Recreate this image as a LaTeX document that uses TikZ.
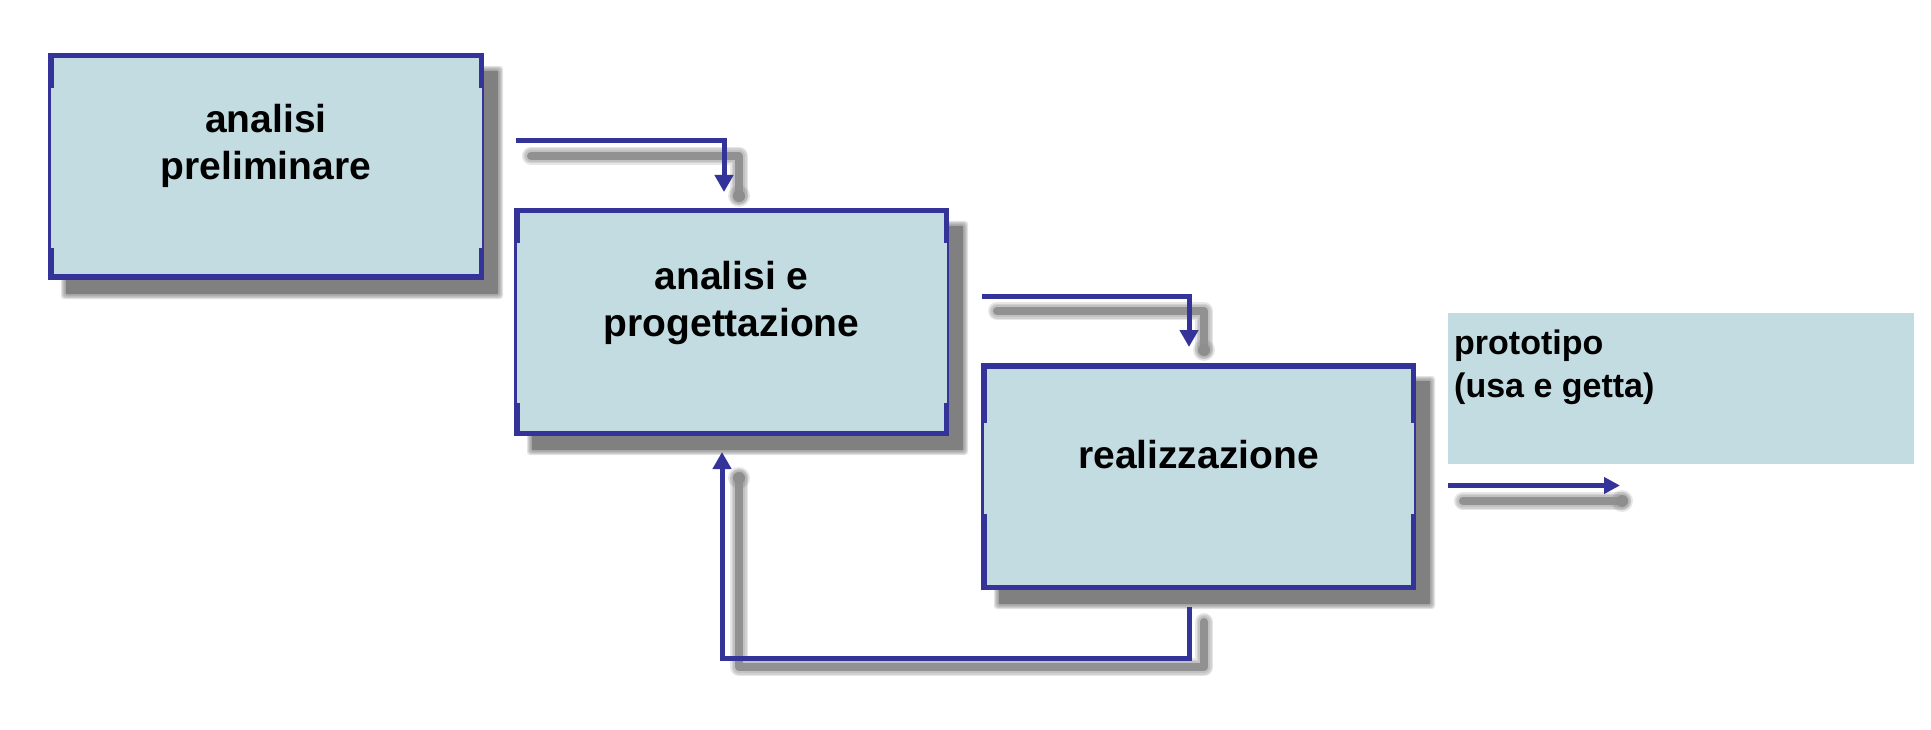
\documentclass[tikz,border=0pt]{standalone}
\usepackage{fontspec}
\setmainfont{Liberation Sans}
\usetikzlibrary{arrows.meta,fit}
\definecolor{boxfillc}{RGB}{194,220,225}
\definecolor{bordc}{RGB}{51,51,153}
\definecolor{shadowc}{RGB}{128,128,128}
\definecolor{lineshadowc}{RGB}{145,145,145}
\tikzset{
  flowarrow/.style={draw=bordc, line width=5pt, -{Triangle[width=18pt,length=17pt]}},
  boxlabel/.style={anchor=base, inner sep=0pt, font=\bfseries\fontsize{39}{47}\selectfont},
  protolabel/.style={anchor=base west, inner sep=0pt, font=\bfseries\fontsize{34}{43}\selectfont},
  shadecore/.style={fill=shadowc},
  shadelayer/.style={fill=shadowc, opacity=0.22, rounded corners=3pt},
  shadestroke/.style={draw=shadowc, opacity=0.2, line cap=round, line join=round},
  shadecorestroke/.style={draw=lineshadowc, line cap=round, line join=round},
  shadeblob/.style={fill=shadowc, opacity=0.2},
  shadecoreblob/.style={fill=lineshadowc!80!shadowc},
  borderpart/.style={fill=bordc},
  boxarea/.style={fill=boxfillc},
  boxframe/.style={inner sep=0pt},
}
\newcommand\softshadow[4]{%
  \foreach \k in {3,2,1,0,-1}{%
    \fill[shadelayer] (#1-\k,#2-\k) rectangle (#3+\k,#4+\k);}%
  \fill[shadecore] (#1+2,#2+2) rectangle (#3-2,#4-2);}
\newcommand\arrowshadow[2]{%
  \foreach \w in {18,15,12}{\draw[shadestroke, line width=\w pt] #1;}%
  \foreach \r in {11,9}{\fill[shadeblob] #2 circle (\r pt);}%
  \draw[shadecorestroke, line width=8pt] #1;%
  \fill[shadecoreblob] #2 circle (6pt);}
\newcommand\procbox[7]{%
  \fill[boxarea] (#2,#3) rectangle (#4,#5);
  \node[boxframe, fit={(#2,#3) (#4,#5)}] (#1) {};
  \fill[borderpart] (#2,#3) rectangle (#4,#3+5.5);
  \fill[borderpart] (#2,#5-5.5) rectangle (#4,#5);
  \fill[borderpart] (#2,#3) rectangle (#2+2.5,#5);
  \fill[borderpart] (#4-2.5,#3) rectangle (#4,#5);
  \fill[borderpart] (#2,#3) rectangle (#2+5.5,#3+#6);
  \fill[borderpart] (#2,#5-#7) rectangle (#2+5.5,#5);
  \fill[borderpart] (#4-5.5,#3) rectangle (#4,#3+#6);
  \fill[borderpart] (#4-5.5,#5-#7) rectangle (#4,#5);
}
\begin{document}
\begin{tikzpicture}[x=1pt,y=-1pt]
\useasboundingbox (0,0) rectangle (1931,730);
% shadows
\softshadow{64}{69}{500}{296}
\softshadow{530}{224}{965}{452}
\softshadow{997}{379}{1432}{606}
\arrowshadow{(531,156) -- (739,156) -- (739,196)}{(739,196)}
\arrowshadow{(997,311) -- (1204,311) -- (1204,350)}{(1204,350)}
\arrowshadow{(1204,622) -- (1204,667) -- (739,667) -- (739,478)}{(739,478)}
\arrowshadow{(1463,501) -- (1622,501)}{(1622,501)}
% boxes
\procbox{b1}{48}{53}{484}{280}{35}{32}
\procbox{b2}{514}{208}{949}{436}{35}{33}
\procbox{b3}{981}{363}{1416}{590}{60}{76}
\fill[boxarea] (1448,313) rectangle (1914,464);
\node[boxframe, fit={(1448,313) (1914,464)}] (pb) {};
% labels
\node[boxlabel] (t1) at (266,133) {\begin{tabular}[t]{@{}c@{}}analisi\\preliminare\end{tabular}};
\node[boxlabel] (t2) at (731.5,290) {\begin{tabular}[t]{@{}c@{}}analisi e\\progettazione\end{tabular}};
\node[boxlabel] (t3) at (1198.5,468) {realizzazione};
\node[protolabel] (tp) at (1454,354) {\begin{tabular}[t]{@{}l@{}}prototipo\\(usa e getta)\end{tabular}};
% connectors
\coordinate (a1s) at (516,141);
\coordinate (a1e) at (724,192);
\coordinate (a2s) at (982,296);
\coordinate (a2e) at (1189,347);
\coordinate (fbs) at (1189,607);
\coordinate (fbc1) at (1189,658);
\coordinate (fbc2) at (722,658);
\coordinate (fbe) at (722,452);
\coordinate (aps) at (1448,485.5);
\coordinate (ape) at (1620,485.5);
\draw[flowarrow] (a1s) -| (a1e);
\draw[flowarrow] (a2s) -| (a2e);
\draw[flowarrow] (fbs) -- (fbc1) -- (fbc2) -- (fbe);
\draw[flowarrow, -{Triangle[width=16pt,length=16pt]}] (aps) -- (ape);
\end{tikzpicture}
\end{document}
